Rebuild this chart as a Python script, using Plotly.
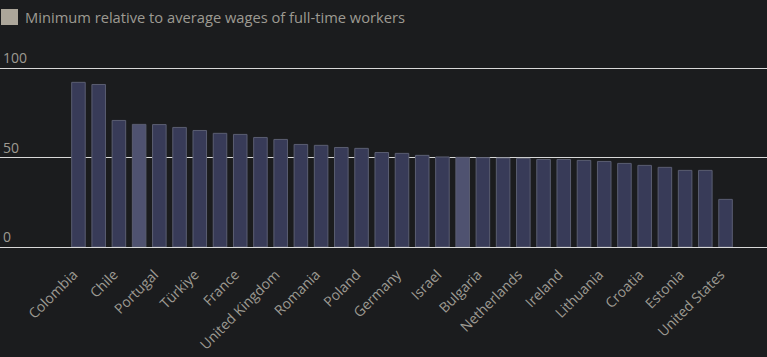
import plotly.graph_objects as go

countries = [
    "Colombia", "Costa Rica", "Chile", "New Zealand", "Portugal", "Slovenia",
    "Türkiye", "Korea", "France", "Luxembourg", "United Kingdom", "Australia",
    "Romania", "Hungary", "Poland", "Slovak Republic", "Germany", "Spain",
    "Israel", "Belgium", "Bulgaria", "Greece", "Netherlands", "Latvia",
    "Ireland", "Canada", "Lithuania", "Japan", "Croatia", "Czechia",
    "Estonia", "Mexico", "United States",
]
values = [
    92.0, 90.8, 70.7, 68.5, 68.4, 66.8,
    65.1, 63.5, 62.9, 61.2, 60.1, 57.3,
    56.8, 55.6, 55.1, 52.8, 52.3, 51.2,
    50.3, 50.1, 49.9, 49.7, 49.5, 48.9,
    48.9, 48.4, 47.8, 46.7, 45.6, 44.5,
    42.8, 42.8, 26.6,
]
highlighted = ["New Zealand", "Belgium"]
y_ticks = [0, 50, 100]
series_name = "Minimum relative to average wages of full-time workers"

BG = "#1b1c1e"
BAR = "#383b58"
BAR_HI = "#4f5270"
EDGE = "#5b5e72"
TXT = "#9d9a92"
GRID = "#d8d8d8"

colors = [BAR_HI if c in highlighted else BAR for c in countries]

fig = go.Figure()
fig.add_trace(go.Bar(
    x=countries, y=values, name=series_name,
    marker=dict(color=colors, line=dict(color=EDGE, width=1)),
    showlegend=False,
))

PLOT_H = 197.0
def py(px_from_top, top=50):
    return 1 + (top - px_from_top) / PLOT_H

fig.update_layout(
    width=767, height=357,
    paper_bgcolor=BG, plot_bgcolor=BG,
    margin=dict(l=0, r=0, t=50, b=110, autoexpand=False),
    bargap=0.33,
    font=dict(family="Open Sans", color=TXT, size=14),
    xaxis=dict(
        type="category", range=[-3.88, 34.05], dtick=2, tickangle=-45,
        showgrid=False, zeroline=False, showline=False,
        ticks="outside", ticklen=8, tickcolor=BG,
        ticklabelstandoff=5, ticklabelshift=-5,
        tickfont=dict(size=14, color=TXT), automargin=False,
    ),
    yaxis=dict(
        range=[0, 110.06], tickvals=y_ticks,
        ticklabelposition="inside top", ticklabeloverflow="allow",
        showgrid=True, gridcolor=GRID, gridwidth=1,
        zeroline=True, zerolinecolor=GRID, zerolinewidth=1,
        showline=False, tickfont=dict(size=14, color=TXT), automargin=False,
    ),
    shapes=[dict(type="rect", xref="paper", yref="paper",
                 x0=1 / 767, x1=18 / 767, y0=py(25), y1=py(9),
                 fillcolor="#aca69a", line=dict(width=0))],
    annotations=[dict(text=series_name, xref="paper", yref="paper",
                      x=23 / 767, y=py(17.5), xanchor="left", yanchor="middle",
                      showarrow=False, font=dict(size=14.7, color=TXT))],
)

fig.write_html("out.html", config={"displayModeBar": False},
               post_script="document.body.style.margin='0';document.body.style.overflow='hidden';")
